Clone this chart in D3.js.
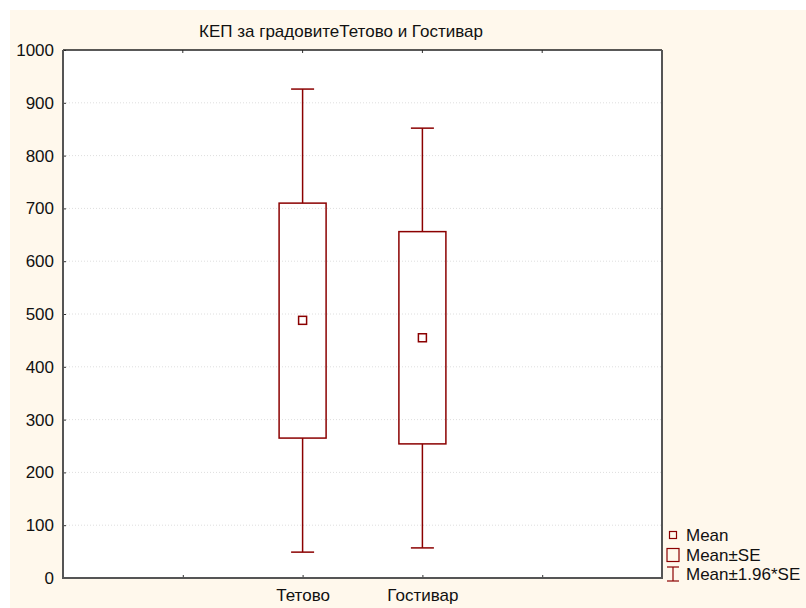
<!DOCTYPE html>
<html>
<head>
<meta charset="utf-8">
<script src="https://cdn.jsdelivr.net/npm/d3@7"></script>
<style>
  html, body { margin: 0; padding: 0; background: #ffffff; }
  svg { display: block; font-family: Arial, "Liberation Sans", sans-serif; }
</style>
</head>
<body>
<svg id="chart" width="806" height="608"></svg>
<script>
// Cities shown on the x axis
const cities = ["Тетово", "Гостивар"];
// Position of each city among the axis slots (0..5)
const cityIndex = [2, 3];
// Mean values
const means = [488, 455];
// Mean ± SE
const seLow = [265, 254];
const seHigh = [710, 656];
// Mean ± 1.96*SE
const ciLow = [49, 57];
const ciHigh = [926, 852];
// Y axis ticks
const yTicks = [0, 100, 200, 300, 400, 500, 600, 700, 800, 900, 1000];
const xSlots = [1, 2, 3, 4];
const legendItems = ["Mean", "Mean±SE", "Mean±1.96*SE"];

const svg = d3.select("#chart");
const W = 806, H = 608;
const plot = { left: 63, top: 50, right: 662, bottom: 578 };
const red = "#8b0000";
const font = "Arial, 'Liberation Sans', sans-serif";
const fs = 17;

// cream panel
svg.append("rect").attr("x", 10).attr("y", 10).attr("width", W - 10).attr("height", H - 10)
  .attr("fill", "#fff8ec");
svg.append("rect").attr("x", plot.left).attr("y", plot.top)
  .attr("width", plot.right - plot.left).attr("height", plot.bottom - plot.top)
  .attr("fill", "#ffffff");

const x = d3.scaleLinear().domain([0, 5]).range([plot.left, plot.right]);
const y = d3.scaleLinear().domain([0, 1000]).range([plot.bottom, plot.top]);

// grid
svg.append("g").selectAll("line").data(yTicks.slice(1, -1)).join("line")
  .attr("x1", plot.left).attr("x2", plot.right)
  .attr("y1", d => y(d)).attr("y2", d => y(d))
  .attr("stroke", "#dedede").attr("stroke-width", 1).attr("stroke-dasharray", "1,2");

// y axis
const yAxis = d3.axisLeft(y).tickValues(yTicks).tickSize(-3).tickPadding(9).tickFormat(d3.format("d"));
const gy = svg.append("g").attr("transform", `translate(${plot.left},0)`).call(yAxis);
gy.select(".domain").remove();
gy.selectAll(".tick line").attr("stroke", "#333");
gy.selectAll("text").attr("font-size", fs).attr("fill", "#111").attr("font-family", font);

// x axis ticks (inner slots)
const xAxis = d3.axisBottom(x).tickValues(xSlots).tickSize(-3).tickFormat(d => {
  const i = cityIndex.indexOf(d);
  return i >= 0 ? cities[i] : "";
}).tickPadding(11);
const gx = svg.append("g").attr("transform", `translate(0,${plot.bottom})`).call(xAxis);
gx.select(".domain").remove();
gx.selectAll(".tick line").attr("stroke", "#333");
gx.selectAll("text").attr("font-size", fs).attr("fill", "#111").attr("font-family", font);

// top ticks
svg.append("g").selectAll("line").data(xSlots).join("line")
  .attr("x1", d => x(d)).attr("x2", d => x(d))
  .attr("y1", plot.top).attr("y2", plot.top + 3)
  .attr("stroke", "#333");

// frame
svg.append("line").attr("x1", plot.left).attr("x2", plot.right).attr("y1", plot.top).attr("y2", plot.top)
  .attr("stroke", "#222").attr("stroke-width", 1.5);
svg.append("line").attr("x1", plot.right).attr("x2", plot.right).attr("y1", plot.top).attr("y2", plot.bottom)
  .attr("stroke", "#555").attr("stroke-width", 2);
svg.append("line").attr("x1", plot.left).attr("x2", plot.left).attr("y1", plot.top).attr("y2", plot.bottom + 1)
  .attr("stroke", "#555").attr("stroke-width", 2);
svg.append("line").attr("x1", plot.left - 1).attr("x2", plot.right + 1).attr("y1", plot.bottom).attr("y2", plot.bottom)
  .attr("stroke", "#555").attr("stroke-width", 2);

// boxes and whiskers
const boxW = 47, capW = 23, meanS = 8;
const rows = cities.map((c, i) => ({ c, xi: cityIndex[i], mean: means[i], lo: seLow[i], hi: seHigh[i], clo: ciLow[i], chi: ciHigh[i] }));
const g = svg.append("g").attr("stroke", red).attr("fill", "none").attr("stroke-width", 1.5);
rows.forEach(r => {
  const cx = x(r.xi);
  g.append("line").attr("x1", cx).attr("x2", cx).attr("y1", y(r.chi)).attr("y2", y(r.hi));
  g.append("line").attr("x1", cx).attr("x2", cx).attr("y1", y(r.lo)).attr("y2", y(r.clo));
  g.append("line").attr("x1", cx - capW / 2).attr("x2", cx + capW / 2).attr("y1", y(r.chi)).attr("y2", y(r.chi));
  g.append("line").attr("x1", cx - capW / 2).attr("x2", cx + capW / 2).attr("y1", y(r.clo)).attr("y2", y(r.clo));
  g.append("rect").attr("x", cx - boxW / 2).attr("y", y(r.hi)).attr("width", boxW).attr("height", y(r.lo) - y(r.hi));
  g.append("rect").attr("x", cx - meanS / 2).attr("y", y(r.mean) - meanS / 2).attr("width", meanS).attr("height", meanS);
});

// title
svg.append("text").attr("x", 341).attr("y", 37).attr("text-anchor", "middle")
  .attr("font-size", fs).attr("fill", "#111").attr("font-family", font)
  .text("КЕП за градовитеТетово и Гостивар");

// legend
const lg = svg.append("g");
const lx = 673, ly = [535, 555, 574];
lg.append("rect").attr("x", lx - 3.5).attr("y", ly[0] - 3.5).attr("width", 7).attr("height", 7)
  .attr("fill", "none").attr("stroke", red).attr("stroke-width", 1.2);
lg.append("rect").attr("x", lx - 6).attr("y", ly[1] - 6.5).attr("width", 12).attr("height", 13)
  .attr("fill", "none").attr("stroke", red).attr("stroke-width", 1.2);
lg.append("line").attr("x1", lx).attr("x2", lx).attr("y1", ly[2] - 7).attr("y2", ly[2] + 7).attr("stroke", red).attr("stroke-width", 1.2);
lg.append("line").attr("x1", lx - 6).attr("x2", lx + 6).attr("y1", ly[2] - 7).attr("y2", ly[2] - 7).attr("stroke", red).attr("stroke-width", 1.2);
lg.append("line").attr("x1", lx - 6).attr("x2", lx + 6).attr("y1", ly[2] + 7).attr("y2", ly[2] + 7).attr("stroke", red).attr("stroke-width", 1.2);
lg.selectAll("text").data(legendItems).join("text")
  .attr("x", 686).attr("y", (d, i) => [541, 561, 580][i])
  .attr("font-size", fs).attr("fill", "#111").attr("font-family", font).text(d => d);
</script>
</body>
</html>
